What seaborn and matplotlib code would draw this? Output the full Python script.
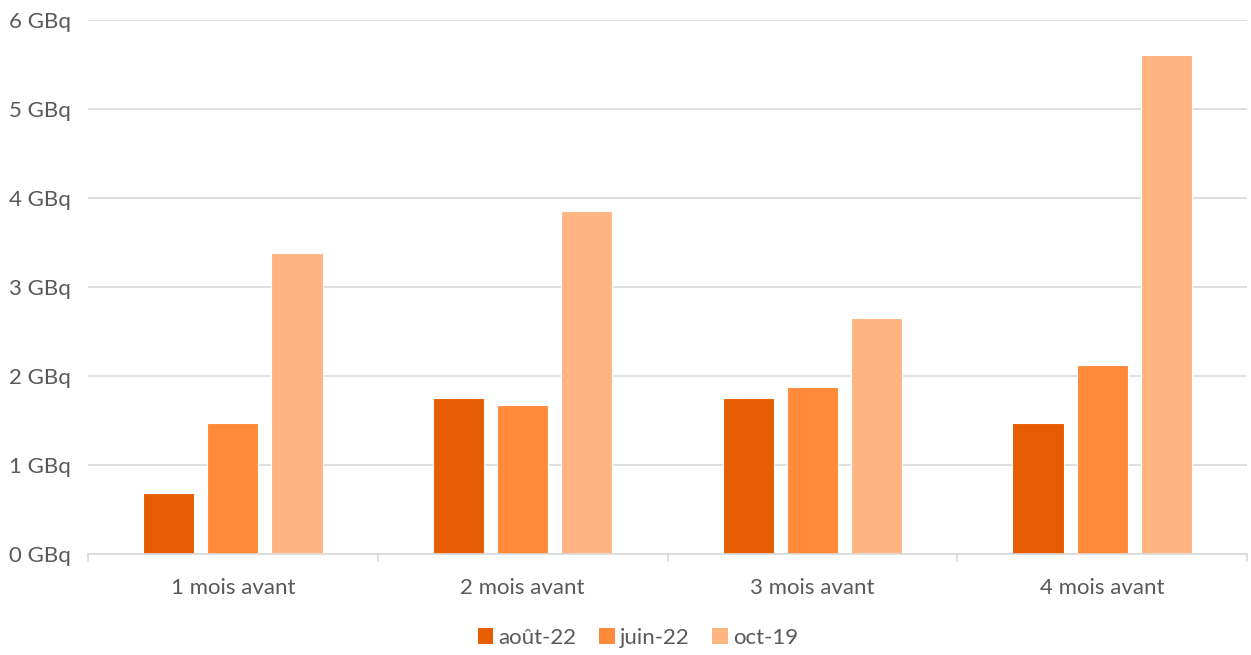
import matplotlib
matplotlib.use("Agg")
import matplotlib.pyplot as plt
import seaborn as sns
import pandas as pd
from matplotlib.patches import Patch
from matplotlib.ticker import FixedLocator, FuncFormatter

categories = ["1 mois avant", "2 mois avant", "3 mois avant", "4 mois avant"]
series = ["août-22", "juin-22", "oct-19"]
aout_22 = [0.69, 1.75, 1.75, 1.47]
juin_22 = [1.47, 1.67, 1.88, 2.12]
oct_19 = [3.38, 3.85, 2.65, 5.61]
colors = ["#E65C00", "#FF8A3A", "#FFB482"]

rows = []
for s, vals in zip(series, [aout_22, juin_22, oct_19]):
    for c, v in zip(categories, vals):
        rows.append({"cat": c, "serie": s, "val": v})
df = pd.DataFrame(rows)

sns.set_theme(style="white")
plt.rcParams['font.family'] = ['Lato', 'DejaVu Sans']

FS = 16
fig = plt.figure(figsize=(12.51, 6.55), dpi=100)
ax = fig.add_axes([88/1251, 1-554/655, (1247-88)/1251, (554-20)/655])

sns.barplot(data=df, x="cat", y="val", hue="serie", palette=colors,
            width=0.663, gap=0.2, edgecolor="white", linewidth=0.8,
            ax=ax, legend=False, saturation=1)

ax.set_ylim(0, 6)
ax.set_xlim(-0.5, 3.5)
ax.yaxis.set_major_locator(FixedLocator(range(0, 7)))
ax.yaxis.set_major_formatter(FuncFormatter(lambda v, p: f"{int(v)} GBq"))
ax.grid(axis="y", color="#D9D9D9", linewidth=1.2)
ax.set_axisbelow(True)
for sp in ["top", "right", "left"]:
    ax.spines[sp].set_visible(False)
ax.spines["bottom"].set_color("#D9D9D9")
ax.spines["bottom"].set_linewidth(1.2)
ax.set_xlabel("")
ax.set_ylabel("")
ax.tick_params(axis="y", length=0, labelsize=FS, labelcolor="#595959")
ax.set_xticks(range(4))
ax.set_xticklabels(categories)
ax.tick_params(axis="x", length=0, pad=17, labelsize=FS, labelcolor="#595959")
for b in [-0.5, 0.5, 1.5, 2.5, 3.5]:
    ax.plot([b, b], [0, -0.08], color="#D9D9D9", lw=1.2, clip_on=False,
            transform=ax.transData)
for lbl in ax.get_yticklabels():
    lbl.set_horizontalalignment("left")
ax.yaxis.set_tick_params(pad=57)

handles = [Patch(facecolor=c, edgecolor="none") for c in colors]
fig.legend(handles, series, loc="center", bbox_to_anchor=(638/1251, 1-638/655),
           ncol=3, frameon=False, fontsize=FS, labelcolor="#595959",
           handlelength=0.7, handleheight=0.7, handletextpad=0.25,
           columnspacing=1.0)

fig.savefig("out.png", dpi=100)
